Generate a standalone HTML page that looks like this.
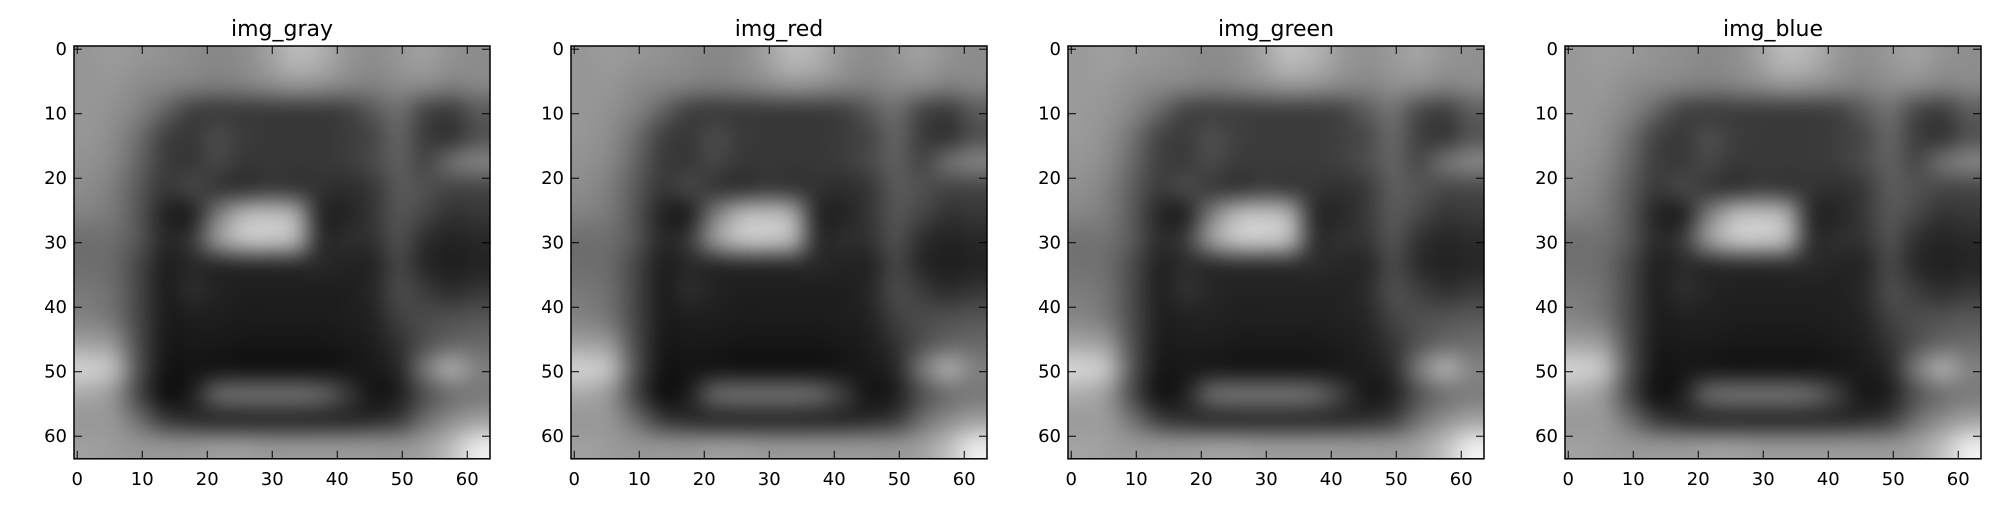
<!DOCTYPE html>
<html><head><meta charset="utf-8">
<style>
body{margin:0;background:#fff;width:2010px;height:510px;overflow:hidden;position:relative;font-family:"DejaVu Sans","Liberation Sans",sans-serif;}
canvas{position:absolute;}
svg{position:absolute;left:0;top:0;}
</style></head>
<body>
<div id="root"></div>
<svg id="ov" width="2010" height="510"></svg>
<script>
const titles = ["img_gray","img_red","img_green","img_blue"];
const channelOffset = [0,0,4,2];
const xTicks = [0,10,20,30,40,50,60];
const yTicks = [0,10,20,30,40,50,60];
const grid = [
[150,155,150,145,140,135,140,160,185,175,150,140,150,160,145,140],
[150,150,140,135,130,125,130,140,150,145,135,130,140,140,130,135],
[150,145,130,100,65,60,60,60,60,60,65,90,110,70,60,90],
[150,140,110,65,55,75,60,55,55,55,60,70,100,60,50,80],
[145,135,100,60,55,70,55,55,55,55,60,75,95,70,110,130],
[140,125,90,55,70,55,50,60,55,50,45,55,90,80,70,70],
[130,120,85,35,30,120,180,190,170,40,35,55,85,70,50,55],
[110,110,85,40,55,150,195,200,180,45,45,50,80,45,35,40],
[110,105,70,30,40,40,45,45,45,40,35,35,70,40,30,35],
[120,110,70,28,45,35,30,30,30,30,30,40,75,60,45,55],
[130,115,70,28,30,30,28,28,28,28,30,35,65,75,80,85],
[160,150,75,25,25,25,22,22,22,22,25,30,50,80,100,105],
[210,190,80,20,20,22,20,20,20,20,22,25,40,120,170,130],
[170,150,70,15,30,100,110,110,110,100,60,20,30,80,110,120],
[150,150,110,60,45,40,40,40,40,40,40,45,60,110,140,160],
[160,155,150,150,150,155,155,150,150,150,150,150,150,160,190,235]
];
const NS="http://www.w3.org/2000/svg";
const ov=document.getElementById('ov');
const root=document.getElementById('root');
const top0=46, sx=6.5, sy=6.45, W=64*sx, H=64*sy;
function xs(L,v){return L+(v+0.5)*sx;}
function ys(v){return top0+(v+0.5)*sy;}
function mk(tag,attrs){const e=document.createElementNS(NS,tag);for(const k in attrs)e.setAttribute(k,attrs[k]);ov.appendChild(e);return e;}
titles.forEach((t,i)=>{
  const L=74+i*497;
  const n=grid.length, P=n+4;
  // padded source canvas (edges replicated)
  const src=document.createElement('canvas');src.width=P;src.height=P;
  const sc=src.getContext('2d');const im=sc.createImageData(P,P);
  for(let r=0;r<P;r++)for(let c=0;c<P;c++){
    const rr=Math.min(n-1,Math.max(0,r-2)), cc=Math.min(n-1,Math.max(0,c-2));
    const v=Math.min(255,grid[rr][cc]+channelOffset[i]);const k=(r*P+c)*4;
    im.data[k]=im.data[k+1]=im.data[k+2]=v;im.data[k+3]=255;}
  sc.putImageData(im,0,0);
  const cw=W/n, ch=H/n;
  const big=document.createElement('canvas');big.width=Math.round(W+4*cw);big.height=Math.round(H+4*ch);
  const bc=big.getContext('2d');bc.imageSmoothingEnabled=true;bc.imageSmoothingQuality='high';
  bc.drawImage(src,0,0,big.width,big.height);
  const cv=document.createElement('canvas');
  
  
  cv.width=Math.round(W);cv.height=Math.round(H);cv.style.left=L+'px';cv.style.top=top0+'px';
  const ctx=cv.getContext('2d');
  const mid=document.createElement('canvas');mid.width=big.width;mid.height=big.height;
  const mc=mid.getContext('2d');mc.filter='blur(4px)';mc.drawImage(big,0,0);
  ctx.drawImage(mid,-2*cw,-2*ch);
  root.appendChild(cv);
  const fr=mk('rect',{x:L,y:top0,width:W,height:H,fill:'none',stroke:'#000','stroke-width':1.5});
  
  
  const tt=mk('text',{x:L+W/2,y:36,'text-anchor':'middle','font-size':22,fill:'#000'});
  tt.textContent=t;
  
  
  xTicks.forEach(v=>{
    const x=xs(L,v);
    const a=mk('line',{x1:x,x2:x,y1:top0+H,y2:top0+H-8,stroke:'#000','stroke-width':1});
    
    
    const b=mk('line',{x1:x,x2:x,y1:top0,y2:top0+8,stroke:'#000','stroke-width':1});
    
    
    const lb=mk('text',{x:x,y:485,'text-anchor':'middle','font-size':18,fill:'#000'});
    lb.textContent=v;
    
    
  });
  yTicks.forEach(v=>{
    const y=ys(v);
    const a=mk('line',{x1:L,x2:L+8,y1:y,y2:y,stroke:'#000','stroke-width':1});
    
    
    const b=mk('line',{x1:L+W,x2:L+W-8,y1:y,y2:y,stroke:'#000','stroke-width':1});
    
    
    const lb=mk('text',{x:L-7,y:y+6,'text-anchor':'end','font-size':18,fill:'#000'});
    lb.textContent=v;
    
    
  });
});
</script>
</body></html>
